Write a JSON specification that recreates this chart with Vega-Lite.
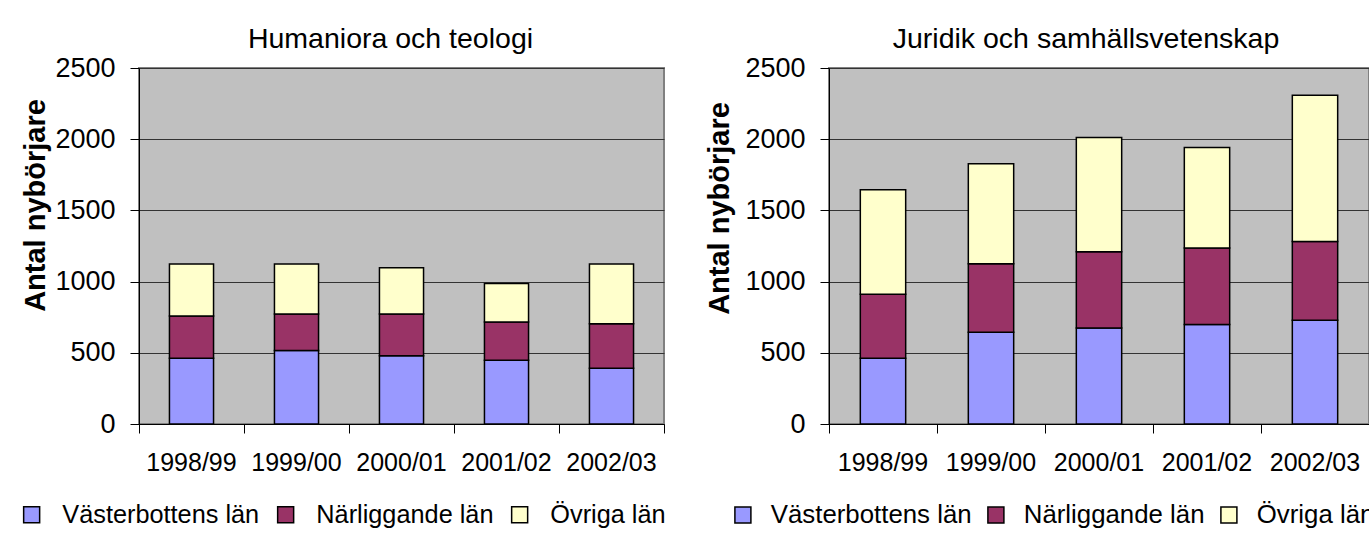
{
  "$schema": "https://vega.github.io/schema/vega-lite/v6.json",
  "background": "white",
  "padding": {"left": 18, "top": 23, "right": 0, "bottom": 0},
  "datasets": {
    "hum": [
      {"year": "1998/99", "region": "Västerbottens län", "k": 1, "value": 462},
      {"year": "1998/99", "region": "Närliggande län", "k": 2, "value": 296},
      {"year": "1998/99", "region": "Övriga län", "k": 3, "value": 366},
      {"year": "1999/00", "region": "Västerbottens län", "k": 1, "value": 516},
      {"year": "1999/00", "region": "Närliggande län", "k": 2, "value": 256},
      {"year": "1999/00", "region": "Övriga län", "k": 3, "value": 352},
      {"year": "2000/01", "region": "Västerbottens län", "k": 1, "value": 479},
      {"year": "2000/01", "region": "Närliggande län", "k": 2, "value": 293},
      {"year": "2000/01", "region": "Övriga län", "k": 3, "value": 326},
      {"year": "2001/02", "region": "Västerbottens län", "k": 1, "value": 448},
      {"year": "2001/02", "region": "Närliggande län", "k": 2, "value": 268},
      {"year": "2001/02", "region": "Övriga län", "k": 3, "value": 270},
      {"year": "2002/03", "region": "Västerbottens län", "k": 1, "value": 392},
      {"year": "2002/03", "region": "Närliggande län", "k": 2, "value": 312},
      {"year": "2002/03", "region": "Övriga län", "k": 3, "value": 420}
    ],
    "jur": [
      {"year": "1998/99", "region": "Västerbottens län", "k": 1, "value": 461},
      {"year": "1998/99", "region": "Närliggande län", "k": 2, "value": 451},
      {"year": "1998/99", "region": "Övriga län", "k": 3, "value": 733},
      {"year": "1999/00", "region": "Västerbottens län", "k": 1, "value": 644},
      {"year": "1999/00", "region": "Närliggande län", "k": 2, "value": 482},
      {"year": "1999/00", "region": "Övriga län", "k": 3, "value": 702},
      {"year": "2000/01", "region": "Västerbottens län", "k": 1, "value": 674},
      {"year": "2000/01", "region": "Närliggande län", "k": 2, "value": 536},
      {"year": "2000/01", "region": "Övriga län", "k": 3, "value": 802},
      {"year": "2001/02", "region": "Västerbottens län", "k": 1, "value": 698},
      {"year": "2001/02", "region": "Närliggande län", "k": 2, "value": 538},
      {"year": "2001/02", "region": "Övriga län", "k": 3, "value": 705},
      {"year": "2002/03", "region": "Västerbottens län", "k": 1, "value": 728},
      {"year": "2002/03", "region": "Närliggande län", "k": 2, "value": 553},
      {"year": "2002/03", "region": "Övriga län", "k": 3, "value": 1027}
    ]
  },
  "spacing": 165,
  "bounds": "flush",
  "resolve": {
    "scale": {"color": "independent", "x": "independent", "y": "independent"},
    "legend": {"color": "independent"}
  },
  "hconcat": [
    {
      "width": 525,
      "height": 356,
      "data": {"name": "hum"},
      "title": {"text": "Humaniora och teologi", "dx": -11, "offset": 1},
      "mark": {"type": "bar", "width": {"band": 0.42}, "stroke": "black", "strokeWidth": 1.5},
      "encoding": {
        "x": {
          "field": "year", "type": "nominal",
          "scale": {"paddingInner": 0, "paddingOuter": 0},
          "axis": {"title": null, "labelAngle": 0, "bandPosition": 1, "tickExtra": true, "labelPadding": 17, "labelFontSize": 25, "grid": false}
        },
        "y": {
          "field": "value", "type": "quantitative", "stack": "zero",
          "scale": {"domain": [0, 2500], "nice": false},
          "axis": {"values": [0, 500, 1000, 1500, 2000, 2500], "format": "d", "title": "Antal nybörjare", "titleX": -104, "titleY": 137, "titleBaseline": "middle"}
        },
        "color": {
          "field": "region", "type": "nominal",
          "scale": {"domain": ["Västerbottens län", "Närliggande län", "Övriga län"], "range": ["#9999FF", "#993366", "#FFFFCC"]},
          "legend": {"title": null, "orient": "none", "legendX": -120, "legendY": 434, "direction": "horizontal", "labelOffset": 18, "columnPadding": 13, "labelFontSize": 25.3}
        },
        "order": {"field": "k", "type": "quantitative"}
      }
    },
    {
      "width": 540,
      "height": 356,
      "data": {"name": "jur"},
      "title": {"text": "Juridik och samhällsvetenskap", "dx": -13, "offset": 1},
      "mark": {"type": "bar", "width": {"band": 0.42}, "stroke": "black", "strokeWidth": 1.5},
      "encoding": {
        "x": {
          "field": "year", "type": "nominal",
          "scale": {"paddingInner": 0, "paddingOuter": 0},
          "axis": {"title": null, "labelAngle": 0, "bandPosition": 1, "tickExtra": true, "labelPadding": 17, "labelFontSize": 25, "grid": false}
        },
        "y": {
          "field": "value", "type": "quantitative", "stack": "zero",
          "scale": {"domain": [0, 2500], "nice": false},
          "axis": {"values": [0, 500, 1000, 1500, 2000, 2500], "format": "d", "title": "Antal nybörjare", "titleX": -110, "titleY": 140, "titleBaseline": "middle"}
        },
        "color": {
          "field": "region", "type": "nominal",
          "scale": {"domain": ["Västerbottens län", "Närliggande län", "Övriga län"], "range": ["#9999FF", "#993366", "#FFFFCC"]},
          "legend": {"title": null, "orient": "none", "legendX": -99, "legendY": 434, "direction": "horizontal", "labelOffset": 15, "columnPadding": 11}
        },
        "order": {"field": "k", "type": "quantitative"}
      }
    }
  ],
  "config": {
    "font": "Liberation Sans",
    "view": {"fill": "#C0C0C0", "stroke": "#808080", "strokeWidth": 2},
    "title": {"font": "Liberation Sans", "fontSize": 28.5, "fontWeight": "normal", "color": "black"},
    "axis": {
      "labelFont": "Liberation Sans", "labelColor": "black", "domainColor": "black", "domainWidth": 1,
      "tickColor": "black", "tickSize": 9, "tickWidth": 1,
      "titleFont": "Liberation Sans", "titleColor": "black", "titleFontSize": 29, "titleFontWeight": "bold"
    },
    "axisY": {"labelFontSize": 27, "labelPadding": 15, "gridColor": "#333333", "gridWidth": 1, "gridOpacity": 1},
    "legend": {
      "symbolType": "square", "symbolSize": 256, "symbolStrokeColor": "black", "symbolStrokeWidth": 1.5, "symbolOpacity": 1,
      "labelFont": "Liberation Sans", "labelFontSize": 25.8, "labelColor": "black", "labelLimit": 400, "padding": 0
    }
  }
}
